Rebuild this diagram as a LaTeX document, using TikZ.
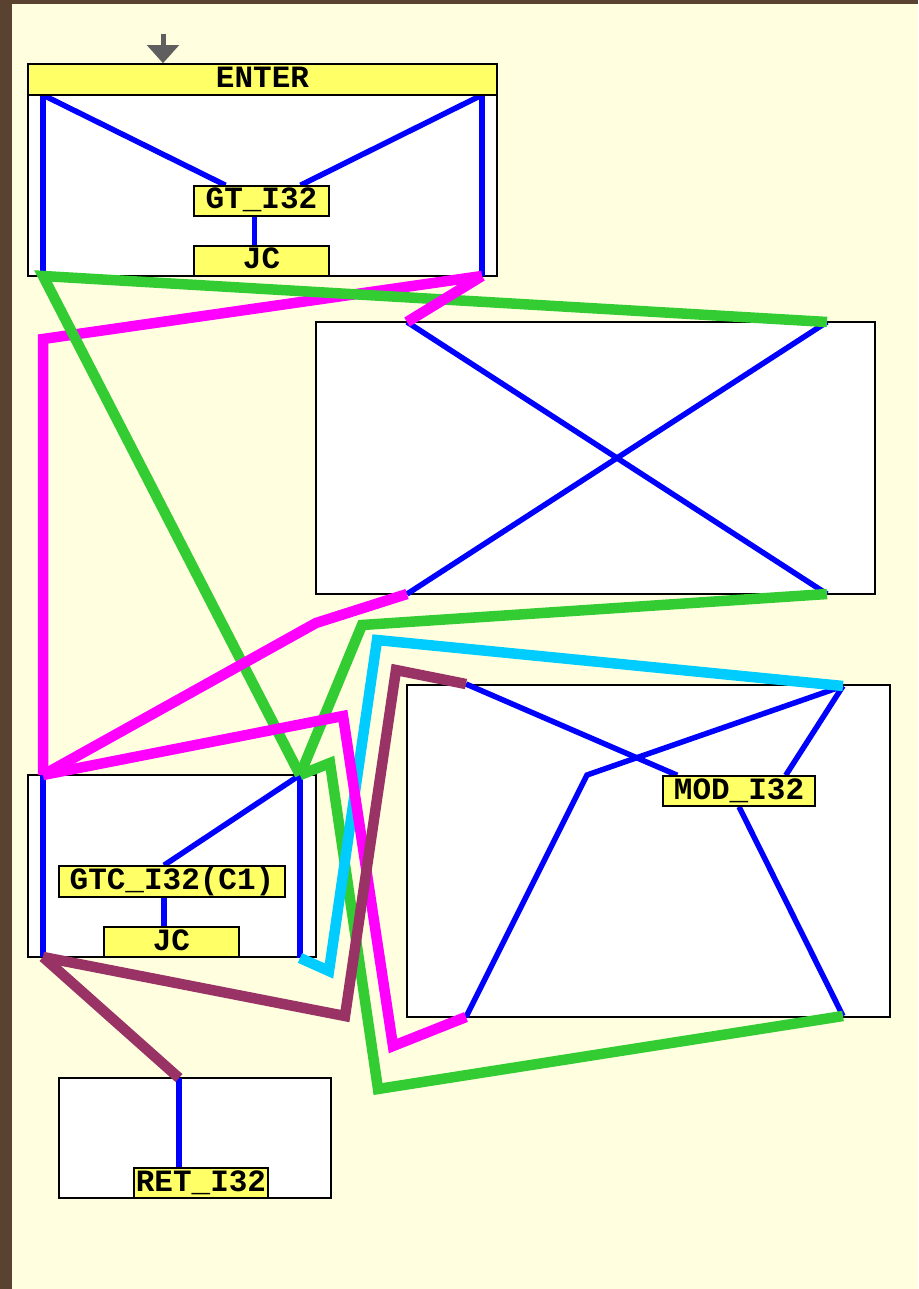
\documentclass[tikz,border=0pt]{standalone}
\usepackage{fontspec}
\setmonofont{Liberation Mono}
\usetikzlibrary{calc,arrows.meta}
\pgfdeclarelayer{back}
\pgfdeclarelayer{mid}
\pgfsetlayers{back,mid,main}
\definecolor{paper}{HTML}{FFFFDF}
\definecolor{bark}{HTML}{5A4230}
\definecolor{tagyellow}{HTML}{FFFF66}
\definecolor{egreen}{HTML}{33CC33}
\definecolor{emagenta}{HTML}{FF00FF}
\definecolor{ecyan}{HTML}{00CCFF}
\definecolor{emaroon}{HTML}{993366}
\definecolor{arrowgray}{HTML}{5F5F5F}

\begin{document}
\begin{tikzpicture}[x=1pt,y=-1pt,
    blockbox/.style={draw=black,fill=white,line width=1.5pt,inner sep=0pt},
    tagbox/.style={draw=black,fill=tagyellow,line width=1.5pt,inner sep=0pt,minimum height=30pt,
      text height=23pt,text depth=7pt,font=\ttfamily\bfseries\fontsize{31}{31}\selectfont},
    wire/.style={blue,line width=5.5pt},
    link/.style={line width=10.5pt,#1}]
    \useasboundingbox (0,0) rectangle (918,1289);
    \begin{pgfonlayer}{back}
    \fill[bark] (0,0) rectangle (918,1289);
    \fill[paper] (12,4) rectangle (918,1289);
    \node[blockbox,minimum width=469pt,minimum height=212pt] (b1) at (262.5,170) {};
    \node[blockbox,minimum width=559pt,minimum height=272pt] (b2) at (595.5,458) {};
    \node[blockbox,minimum width=288pt,minimum height=182pt] (b3) at (172,866) {};
    \node[blockbox,minimum width=483pt,minimum height=332pt] (b4) at (648.5,851) {};
    \node[blockbox,minimum width=272pt,minimum height=120pt] (b5) at (195,1138) {};
    \end{pgfonlayer}

    \coordinate (p1a) at (43,95);
    \coordinate (p1b) at (482,95);
    \coordinate (q1a) at (43,276);
    \coordinate (q1b) at (482,276);
    \coordinate (p2a) at (407,322);
    \coordinate (p2b) at (827,322);
    \coordinate (q2a) at (407,594);
    \coordinate (q2b) at (827,594);
    \coordinate (p3a) at (43,775);
    \coordinate (p3b) at (300,775);
    \coordinate (q3a) at (43,957);
    \coordinate (q3b) at (300,958);
    \coordinate (p4a) at (466,684);
    \coordinate (p4b) at (843,686);
    \coordinate (k4) at (587,775);
    \coordinate (q4a) at (466,1017);
    \coordinate (q4b) at (843,1016);
    \coordinate (p5) at (179,1078);
    \coordinate (start) at (163,34);

    \node[tagbox,minimum width=469pt,minimum height=31pt] (enter) at (262.5,79.5) {ENTER};
    \node[tagbox,minimum width=135pt] (gt) at (261.5,201) {GT\_I32};
    \node[tagbox,minimum width=135pt] (jc1) at (261.5,261) {JC};
    \node[tagbox,minimum width=226pt,minimum height=31pt] (gtc) at (172,881.5) {GTC\_I32(C1)};
    \node[tagbox,minimum width=135pt] (jc2) at (171.5,942) {JC};
    \node[tagbox,minimum width=152pt] (mod) at (739,791) {MOD\_I32};
    \node[tagbox,minimum width=134pt] (ret) at (201,1183) {RET\_I32};

    \begin{pgfonlayer}{mid}
    \draw[wire] (p1a) -- (q1a);
    \draw[wire] (p1b) -- (q1b);
    \draw[wire] (p1a) -- ([xshift=-36pt]gt.north);
    \draw[wire] (p1b) -- ([xshift=39pt]gt.north);
    \draw[wire] ([xshift=-7pt]gt.south) -- ([xshift=-7pt]jc1.north);
    \draw[wire] (p2a) -- (q2b);
    \draw[wire] (p2b) -- (q2a);
    \draw[wire] (p3a) -- (q3a);
    \draw[wire] (p3b) -- (q3b);
    \draw[wire] (p3b) -- ([xshift=-8pt]gtc.north);
    \draw[wire] ([xshift=-8pt]gtc.south) -- ([xshift=-7.5pt]jc2.north);
    \draw[wire] (p4a) -- ([xshift=15pt]mod.north west);
    \draw[wire] (p4b) -- (k4) -- (q4a);
    \draw[wire] (p4b) -- ([xshift=-30pt]mod.north east);
    \draw[wire] (mod.south) -- (q4b);
    \draw[wire] (p5) -- ([xshift=-22pt]ret.north);
    \end{pgfonlayer}

    \draw[arrowgray,line width=5pt,-{Triangle[width=31pt,length=18pt]}] (start) -- (enter.north -| start);

    \draw[link=emagenta] (q1b) -- (p3a |- 0,339) -- (p3a);
    \draw[link=egreen] (p2b) -- (q1a) -- (p3b);
    \draw[link=emagenta] (q1b) -- (p2a);
    \draw[link=egreen] (q2b) -- (362,625) -- (p3b);
    \draw[link=emagenta] (q2a) -- (316,623) -- (p3a);
    \draw[link=egreen] (q4b) -- (378,1089) -- (330,763) -- (p3b);
    \draw[link=ecyan] (q3b) -- (329,971) -- (377,640) -- (p4b);
    \draw[link=emagenta] (p3a) -- (343,716) -- (393,1046) -- (q4a);
    \draw[link=emaroon] (q3a) -- (345,1016) -- (396,670) -- (p4a);
    \draw[link=emaroon] (q3a) -- (p5);
\end{tikzpicture}
\end{document}
